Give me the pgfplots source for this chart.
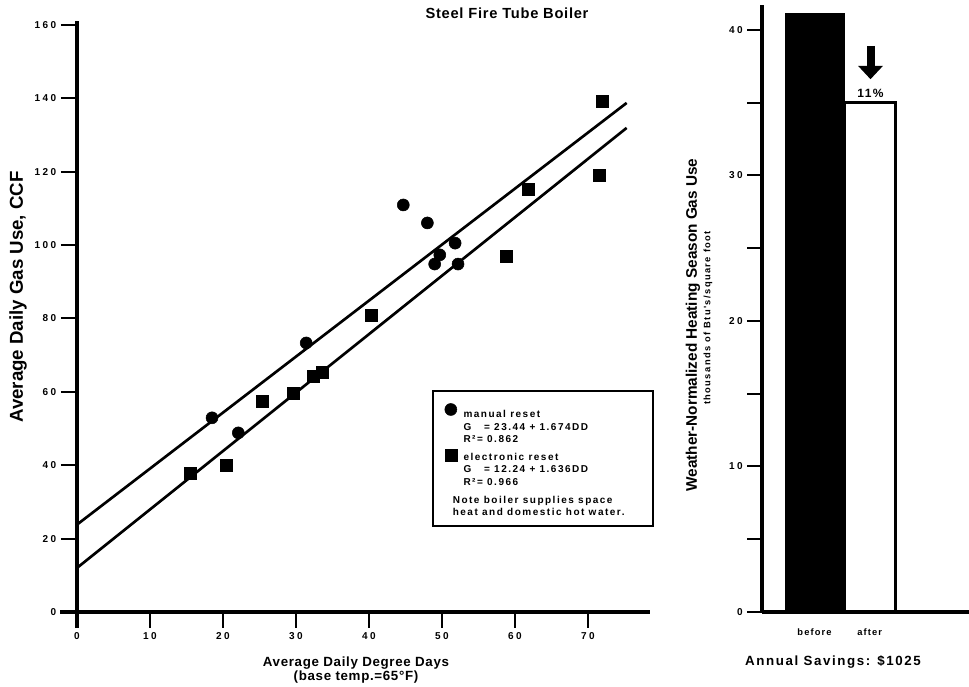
\documentclass[border=0pt]{standalone}
\usepackage{pgfplots}
\pgfplotsset{compat=1.18}
\usepackage{fontspec}
\setmainfont{Liberation Sans}
\newfontfamily\ftick{Liberation Sans}[LetterSpace=25]
\newfontfamily\fleg{Liberation Sans}[LetterSpace=15]
\newfontfamily\flab{Liberation Sans}[LetterSpace=5]
\newfontfamily\fsub{Liberation Sans}[LetterSpace=15]
\newfontfamily\fbar{Liberation Sans}[LetterSpace=12]
\usetikzlibrary{arrows.meta}

\begin{document}
\begin{tikzpicture}
\path[use as bounding box] (0,0) rectangle (726.75pt,514.5pt);

% left panel: gas use vs degree days
\begin{axis}[
    at={(45.15pt,43.425pt)}, anchor=south west,
    scale only axis, width=442.35pt, height=455.25pt,
    xmin=-2.3, xmax=78.5, ymin=-4.4, ymax=161,
    axis lines=middle,
    axis line style={-, line width=3pt},
    hide obscured x ticks=false, hide obscured y ticks=false,
    xtick={0,10,...,70}, ytick={0,20,...,160},
    tick align=outside, major tick length=12pt,
    tick style={line width=1.5pt, black},
    minor tick num=0,
    tick label style={font=\fontsize{7.5}{8}\selectfont\ftick\bfseries},
    /pgf/number format/assume math mode=true,
    clip=false,
    legend style={at={(0.630,0.392)}, anchor=north west,
        draw=black, line width=1.5pt,
        font=\fontsize{7.5}{8}\selectfont\fleg\bfseries,
        cells={anchor=west}, row sep=-1.5pt, column sep=3pt,
        inner xsep=5pt, inner ysep=4pt},
    legend image post style={line width=0.4pt},
]
\addplot[only marks, mark=*, mark size=4.5pt, black] coordinates {
    (18.5,52.9) (22.1,48.8) (31.4,73.3) (44.7,110.9) (48.0,106.0)
    (49.0,94.8) (49.7,97.3) (51.8,100.5) (52.2,94.8)
};
\addlegendentry{\rule{0pt}{14pt}manual reset}
\addlegendimage{empty legend}
\addlegendentry{G\ \ \ =\ 23.44\ +\ 1.674DD}
\addlegendimage{empty legend}
\addlegendentry{R²=\ 0.862}
\addplot[only marks, mark=square*, mark size=4.5pt, black] coordinates {
    (15.5,37.9) (20.5,40.0) (25.4,57.5) (29.6,59.7) (32.3,64.3)
    (33.6,65.4) (40.3,80.9) (58.8,97.0) (61.8,115.3) (71.6,119.1)
    (72.0,139.2)
};
\addlegendentry{\rule{0pt}{9.5pt}electronic reset}
\addlegendimage{empty legend}
\addlegendentry{G\ \ \ =\ 12.24\ +\ 1.636DD}
\addlegendimage{empty legend}
\addlegendentry{R²=\ 0.966}
\addlegendimage{empty legend}
\addlegendentry{\rule{0pt}{9.5pt}\hspace{-8pt}Note boiler supplies space}
\addlegendimage{empty legend}
\addlegendentry{\hspace{-8pt}\makebox[143pt][l]{heat and domestic hot water.}}
% fitted lines
\addplot[line width=2pt, forget plot] coordinates {(0,23.8) (75.3,138.7)};
\addplot[line width=2pt, forget plot] coordinates {(0,12.0) (75.3,131.9)};
\end{axis}

% right panel: weather-normalized season use
\begin{axis}[
    at={(571.5pt,55.5pt)}, anchor=south west,
    scale only axis, width=155.25pt, height=455.25pt,
    xmin=0, xmax=207, ymin=0, ymax=41.7,
    axis lines=left,
    axis line style={-, line width=3pt},
    xtick={52.5,107.75}, xticklabels={before,after},
    xtick style={draw=none},
    ytick={0,5,...,40}, yticklabels={0,,10,,20,,30,,40},
    tick align=outside, major tick length=11pt,
    tick style={line width=1.5pt, black},
    minor tick num=0,
    y tick label style={font=\fontsize{7.5}{8}\selectfont\ftick\bfseries},
    x tick label style={font=\fontsize{7}{8}\selectfont\fbar\bfseries, yshift=2pt},
    /pgf/number format/assume math mode=true,
    clip=false,
]
\addplot[ybar, bar width=51.5, bar shift=0pt, fill=white, draw=black,
    line width=2.8pt] coordinates {(107.75,35.0)};
\addplot[ybar, bar width=59, bar shift=0pt, fill=black, draw=black,
    line width=0.4pt] coordinates {(52.5,41.1)};
\draw[line width=6pt, -{Triangle[width=18pt,length=10pt]}]
    (axis cs:108.5,38.9) -- (axis cs:108.5,36.6);
\node[font=\fontsize{9}{10}\selectfont\fbar\bfseries, anchor=south, inner sep=1.5pt]
    at (axis cs:108.5,35.2) {11\%};
\end{axis}

% titles and axis labels
\node[font=\fontsize{11}{13}\selectfont\flab\bfseries] at (380.25pt,504.75pt)
    {Steel Fire Tube Boiler};
\node[font=\fontsize{14}{16}\selectfont\bfseries, rotate=90] at (13.5pt,291.75pt)
    {Average Daily Gas Use, CCF};
\node[font=\fontsize{10}{10.5}\selectfont\flab\bfseries, align=center] at (267pt,12pt)
    {Average Daily Degree Days\\(base temp.=65°F)};
\node[font=\fontsize{11.5}{13}\selectfont\bfseries, rotate=90] at (519.75pt,270.75pt)
    {Weather-Normalized Heating Season Gas Use};
\node[font=\fontsize{7}{8}\selectfont\fsub\bfseries, rotate=90] at (531pt,276pt)
    {thousands of Btu's/square foot};
\node[font=\fontsize{10}{12}\selectfont\fbar\bfseries] at (624.75pt,18pt)
    {Annual Savings: \$1025};
\end{tikzpicture}
\end{document}
